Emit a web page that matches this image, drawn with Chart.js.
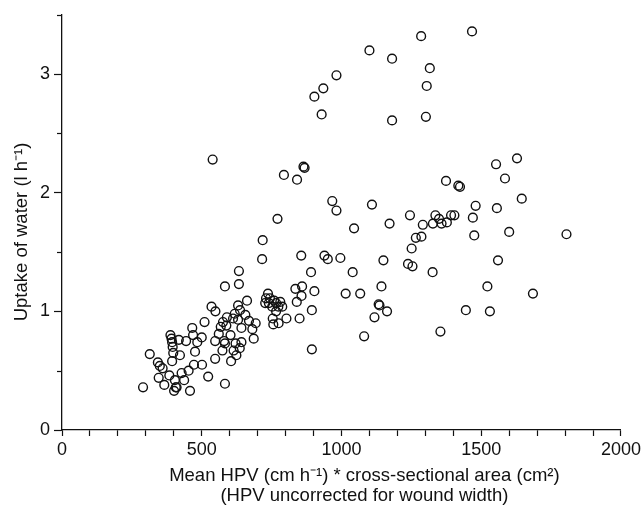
<!DOCTYPE html>
<html>
<head>
<meta charset="utf-8">
<script src="https://cdn.jsdelivr.net/npm/chart.js@4/dist/chart.umd.min.js"></script>
<style>
  html, body { margin: 0; padding: 0; background: #fff; }
  #wrap { width: 644px; height: 510px; }
</style>
</head>
<body>
<div id="wrap"><canvas id="c" width="644" height="510"></canvas></div>
<script>
// Mean HPV * cross-sectional area (x) and uptake of water, l/h (y)
const hpvArea = [
  1467,1285,1100,1181,1316,982,935,903,1305,929,1181,1302,
  539,864,868,794,841,1374,1418,1424,1553,1628,1585,1645,967,982,1109,1480,1556,1470,
  1245,1336,1392,1404,1349,1327,1358,1377,1291,1172,771,1045,1600,1805,1475,1266,1286,1251,
  718,716,856,939,951,996,1150,1560,1238,1254,1040,1326,891,633,633,583,859,1143,1522,
  835,903,857,1015,1067,1685,840,1133,1136,894,1163,1445,1531,1118,850,1081,1354,894,
  737,730,744,727,740,759,766,781,788,774,752,766,754,756,775,803,
  290,314,343,350,360,346,366,384,388,392,394,396,398,394,404,407,401,410,418,422,428,437,
  444,453,458,466,469,476,472,484,500,501,510,523,535,549,548,548,561,568,576,580,574,583,
  588,590,583,605,603,614,618,621,624,630,637,642,642,636,656,662,669,681,686,693,612,630
];
const waterUptake = [
  3.36,3.32,3.20,3.13,3.05,2.99,2.88,2.81,2.90,2.66,2.61,2.64,
  2.28,2.22,2.21,2.15,2.11,2.10,2.06,2.05,2.24,2.29,2.12,1.95,1.93,1.85,1.90,1.89,1.87,1.79,
  1.81,1.81,1.81,1.81,1.78,1.74,1.74,1.75,1.73,1.74,1.78,1.70,1.67,1.65,1.64,1.62,1.63,1.53,
  1.60,1.44,1.47,1.47,1.44,1.45,1.43,1.43,1.40,1.38,1.33,1.33,1.33,1.34,1.23,1.21,1.21,1.21,1.21,
  1.19,1.17,1.13,1.15,1.15,1.15,1.08,1.06,1.05,1.01,1.00,1.01,1.00,0.95,0.94,0.79,0.83,0.68,
  1.15,1.11,1.11,1.07,1.07,1.09,1.07,1.08,1.04,1.04,1.04,1.00,0.94,0.89,0.90,0.94,
  0.36,0.64,0.57,0.54,0.52,0.44,0.38,0.46,0.80,0.77,0.74,0.70,0.65,0.58,0.42,0.36,0.33,0.36,0.76,0.63,0.48,0.42,
  0.75,0.50,0.33,0.86,0.80,0.66,0.55,0.74,0.78,0.55,0.91,0.45,1.04,1.00,0.75,0.60,0.81,0.87,0.91,0.75,0.67,0.39,
  0.88,0.95,0.73,0.58,0.80,0.67,0.98,0.73,0.63,1.05,1.01,0.86,0.74,0.69,0.97,1.09,0.92,0.85,0.77,0.90,0.94,0.93
];
const xTickLabels = [0, 500, 1000, 1500, 2000];
const yTickLabels = [0, 1, 2, 3];
const xTitle = ['Mean HPV (cm h\u207B\u00B9) * cross-sectional area (cm\u00B2)', '(HPV uncorrected for wound width)'];
const yTitle = 'Uptake of water (l h\u207B\u00B9)';

const points = hpvArea.map((x, i) => ({ x: x, y: waterUptake[i] }));
const FONT = '"Liberation Sans", Arial, sans-serif';
const INK = '#111';

const titlesPlugin = {
  id: 'titles',
  afterDraw(chart) {
    const { ctx, chartArea, scales } = chart;
    ctx.save();
    ctx.fillStyle = INK;
    ctx.strokeStyle = INK;
    // minor y ticks (shorter)
    ctx.lineWidth = 1.2;
    const ys = scales.y;
    for (let v = 0.5; v <= 3.5; v += 1) {
      const py = Math.round(ys.getPixelForValue(v)) + 0.5;
      ctx.beginPath();
      ctx.moveTo(chartArea.left, py);
      ctx.lineTo(chartArea.left - 5, py);
      ctx.stroke();
    }
    ctx.font = '18.5px ' + FONT;
    ctx.textAlign = 'center';
    ctx.textBaseline = 'middle';
    const cx = chartArea.left + (chartArea.right - chartArea.left) * 0.541;
    ctx.fillText(xTitle[0], cx, chartArea.bottom + 46);
    ctx.fillText(xTitle[1], cx, chartArea.bottom + 66);
    ctx.translate(22, chartArea.top + (chartArea.bottom - chartArea.top) * 0.523);
    ctx.rotate(-Math.PI / 2);
    ctx.fillText(yTitle, 0, 0);
    ctx.restore();
  }
};

new Chart(document.getElementById('c'), {
  type: 'scatter',
  data: {
    datasets: [{
      data: points,
      pointStyle: 'circle',
      pointRadius: 4.4,
      pointBorderWidth: 1.4,
      pointBorderColor: INK,
      pointBackgroundColor: 'rgba(0,0,0,0)',
      pointHoverRadius: 4.4
    }]
  },
  options: {
    responsive: false,
    animation: false,
    events: [],
    layout: { padding: { top: 13, right: 22, left: 0, bottom: 0 } },
    plugins: { legend: { display: false }, tooltip: { enabled: false } },
    scales: {
      x: {
        type: 'linear',
        min: 0, max: 2000,
        afterFit(s) { s.height = 80; },
        border: { display: true, color: INK, width: 1.3 },
        grid: { drawOnChartArea: false, drawTicks: true, tickLength: 6, tickColor: INK, tickWidth: 1.2 },
        ticks: {
          stepSize: 100,
          autoSkip: false,
          maxRotation: 0,
          padding: 3,
          color: INK,
          font: { family: FONT, size: 18 },
          callback: (v) => xTickLabels.includes(v) ? String(v) : ''
        }
      },
      y: {
        type: 'linear',
        min: 0, max: 3.5,
        afterFit(s) { s.width = 62; },
        border: { display: true, color: INK, width: 1.3 },
        grid: {
          drawOnChartArea: false, drawTicks: true, tickLength: 8, tickWidth: 1.2,
          tickColor: (c) => (c.tick && Number.isInteger(c.tick.value)) ? INK : 'rgba(0,0,0,0)'
        },
        ticks: {
          stepSize: 0.5,
          autoSkip: false,
          padding: 4,
          color: INK,
          font: { family: FONT, size: 18 },
          callback: (v) => yTickLabels.includes(v) ? String(v) : ''
        }
      }
    }
  },
  plugins: [titlesPlugin]
});
</script>
</body>
</html>
